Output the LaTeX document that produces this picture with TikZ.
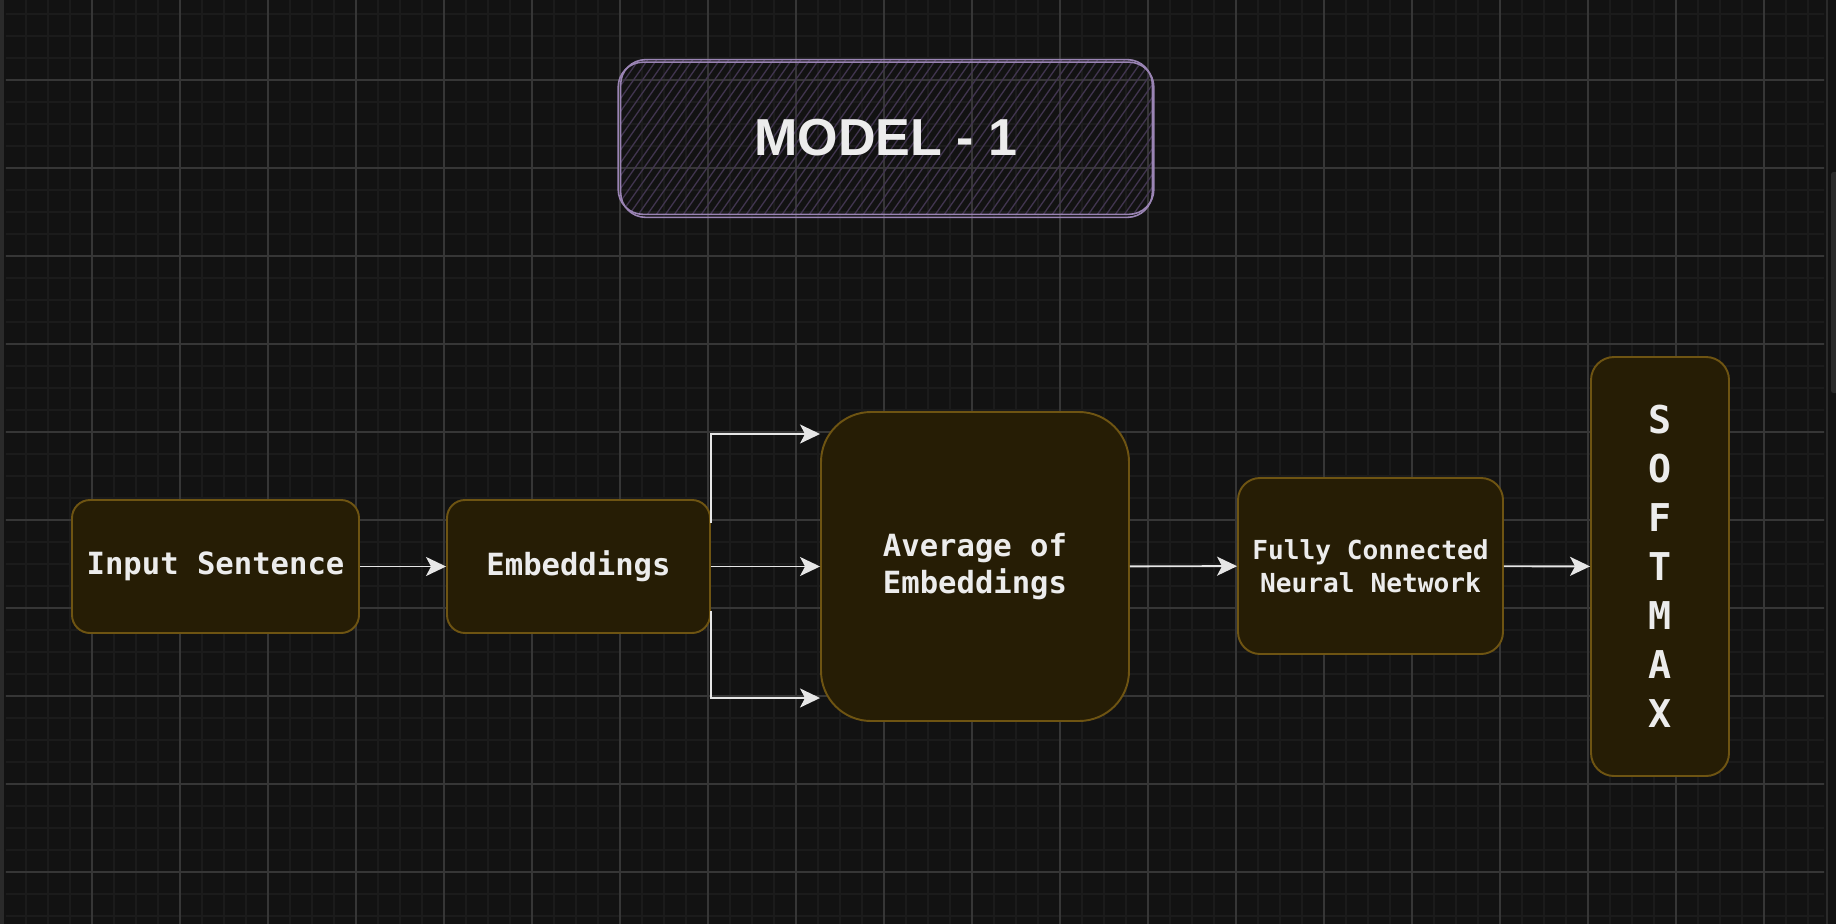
\documentclass[tikz,border=0pt]{standalone}
\usepackage{fontspec}
\setsansfont{Liberation Sans}
\setmonofont{DejaVu Sans Mono}
\usepackage{tikz}
\usetikzlibrary{arrows.meta,positioning}
\definecolor{canvas}{HTML}{121212}
\definecolor{minorline}{HTML}{1B1B1B}
\definecolor{majorline}{HTML}{363636}
\definecolor{boxfill}{HTML}{261D05}
\definecolor{boxline}{HTML}{6E5412}
\definecolor{ink}{HTML}{ECECEC}
\definecolor{wire}{HTML}{E6E6E6}
\definecolor{titleline}{HTML}{9A84B4}
\definecolor{hatchline}{HTML}{41354F}
\definecolor{edgebar}{HTML}{2A2A2A}
\tikzset{
    minorgrid/.style={
    draw=minorline,line width=1.1pt
    },
    majorgrid/.style={
    draw=majorline,line width=0.6pt
    },
    layer/.style={
    rectangle,rounded corners=0.36cm,draw=boxline,fill=boxfill,line width=1.1pt,
    text=ink,font=\ttfamily\bfseries\fontsize{17.4}{21}\selectfont,minimum height=2.66cm
    },
    biglayer/.style={
    layer,rounded corners=1cm,align=left,minimum width=6.16cm,minimum height=6.18cm
    },
    smalllayer/.style={
    layer,rounded corners=0.44cm,align=center,font=\ttfamily\bfseries\fontsize{14.9}{18.8}\selectfont,
    minimum width=5.30cm,minimum height=3.52cm
    },
    softlayer/.style={
    layer,rounded corners=0.46cm,align=center,font=\ttfamily\bfseries\fontsize{21.8}{27.9}\selectfont,
    minimum width=2.76cm,minimum height=8.38cm
    },
    hatch/.style={
    draw=hatchline,line width=0.75pt
    },
    titlebox/.style={
    rectangle,rounded corners=0.5cm,minimum width=10.64cm,minimum height=3.10cm,
    text=ink,font=\sffamily\bfseries\fontsize{29.6}{34}\selectfont,
    path picture={
      \foreach \k in {-14,...,60}
        \draw[hatch] ([xshift={\k*0.18cm}]path picture bounding box.south west) -- ++(55:3.9);
      }
    },
    sketch/.style={
    draw=titleline,line width=0.9pt,rounded corners=0.5cm
    },
    flow/.style={
    color=wire,line width=1.1pt,-{Stealth[length=0.4cm,width=0.38cm,inset=0.1cm]}
    },
}
\begin{document}
\begin{tikzpicture}
   \useasboundingbox (0,0) rectangle (36.72,-18.48);
   \fill[canvas] (0,0) rectangle (36.72,-18.48);
   % canvas grid
   \begin{scope}
     \clip (0.12,0) rectangle (36.48,-18.48);
     \foreach \i in {0,...,82}
       \draw[minorgrid] ({0.08+0.44*\i},0) -- ++(0,-18.48);
     \foreach \j in {0,...,42}
       \draw[minorgrid] (0,{0.16-0.44*\j}) -- ++(36.72,0);
     \foreach \i in {0,...,20}
       \draw[majorgrid] ({0.08+1.76*\i},0) -- ++(0,-18.48);
     \foreach \j in {1,...,10}
       \draw[majorgrid] (0,{0.16-1.76*\j}) -- ++(36.72,0);
   \end{scope}
   \fill[edgebar] (0,0) rectangle (0.08,-18.48);
   \draw[edgebar,line width=1.1pt] (36.54,0) -- (36.54,-18.48);
   \fill[edgebar,rounded corners=0.05cm] (36.62,-3.44) rectangle (36.76,-7.86);

   % title
   \node[titlebox] (title) at (17.72,-2.75) {MODEL - 1};
   \draw[sketch] ([shift={(0.02,-0.04)}]title.south west) rectangle (title.north east);
   \draw[sketch] ([shift={(-0.03,0.02)}]title.south west) rectangle ([shift={(0.03,-0.05)}]title.north east);

   % pipeline
   \node[layer,minimum width=5.74cm] (inp) at (4.31,-11.33) {Input Sentence};
   \node[layer,minimum width=5.26cm] (emb) at (11.57,-11.33) {Embeddings};
   \node[biglayer] (avg) at (19.50,-11.33) {Average of\\Embeddings};
   \node[smalllayer] (fcn) at (27.41,-11.32) {Fully Connected\\Neural Network};
   \node[softlayer] (soft) at (33.20,-11.33) {S\\O\\F\\T\\M\\A\\X};

  \path[flow]
    (inp) edge (emb)
    (emb) edge (avg)
    (avg) edge (fcn)
    (fcn) edge (soft);
  \draw[flow] ([yshift=0.88cm]emb.east) |- ([yshift=2.65cm]avg.west);
  \draw[flow] ([yshift=-0.88cm]emb.east) |- ([yshift=-2.63cm]avg.west);
\end{tikzpicture}
\end{document}
